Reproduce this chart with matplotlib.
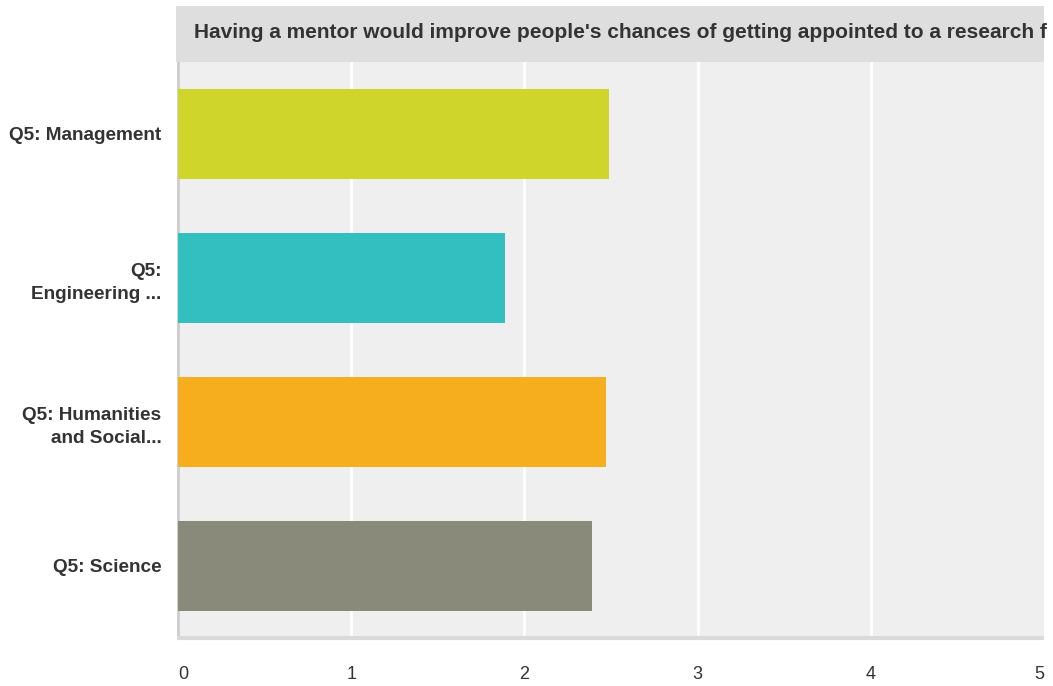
import matplotlib
matplotlib.use("Agg")
import matplotlib.pyplot as plt
from matplotlib.patches import Rectangle

categories = ["Q5: Management", "Q5:\nEngineering ...", "Q5: Humanities\nand Social...", "Q5: Science"]
values = [2.49, 1.89, 2.47, 2.39]
colors = ["#cfd52a", "#33bec0", "#f6ae1f", "#898a79"]
xticks = [0, 1, 2, 3, 4, 5]
# title as visible in the reference (cut off at the chart's right edge)
title = "Having a mentor would improve people's chances of getting appointed to a research f"

plt.rcParams['font.family'] = ['Liberation Sans', 'DejaVu Sans']

W, H = 1053, 686
fig = plt.figure(figsize=(W / 100, H / 100), dpi=100)
L, R, T, B = 178, 1044, 62, 638
ax = fig.add_axes([L / W, 1 - B / H, (R - L) / W, (B - T) / H])
ax.set_facecolor("#efefef")

ypos = list(range(len(categories)))
ax.barh(ypos, values, height=0.63, color=colors, zorder=3)
ax.set_ylim(len(categories) - 0.5, -0.5)
ax.set_xlim(0, 5)
ax.set_xticks(xticks)
ax.set_xticklabels([str(t) for t in xticks])
ax.xaxis.grid(True, color="white", linewidth=2, zorder=1)
ax.set_axisbelow(True)
ax.set_yticks(ypos)
ax.set_yticklabels(categories, fontsize=13.7, fontweight="bold", color="#333333", linespacing=1.45)
ax.tick_params(axis="y", length=0, pad=12)
ax.tick_params(axis="x", length=0, pad=20, labelsize=13, labelcolor="#333333")
labels = ax.get_xticklabels()
labels[0].set_ha("left")
labels[-1].set_ha("right")
for s in ["top", "right"]:
    ax.spines[s].set_visible(False)
ax.spines["left"].set_color("#cccccc")
ax.spines["left"].set_linewidth(2)
ax.spines["bottom"].set_color("#dadada")
ax.spines["bottom"].set_linewidth(3)
ax.spines["bottom"].set_capstyle("butt")
for gl in ax.get_xgridlines()[-1:]:
    gl.set_visible(False)

# title box
box = Rectangle((176 / W, 1 - 62 / H), (R - 176) / W, (62 - 6) / H, transform=fig.transFigure,
                facecolor="#dedede", edgecolor="none")
fig.patches.append(box)
t = fig.text(194 / W, 1 - 33 / H, title, fontsize=15.0, fontweight="bold", color="#333333",
             ha="left", va="center")

fig.savefig("out.png", dpi=100)
